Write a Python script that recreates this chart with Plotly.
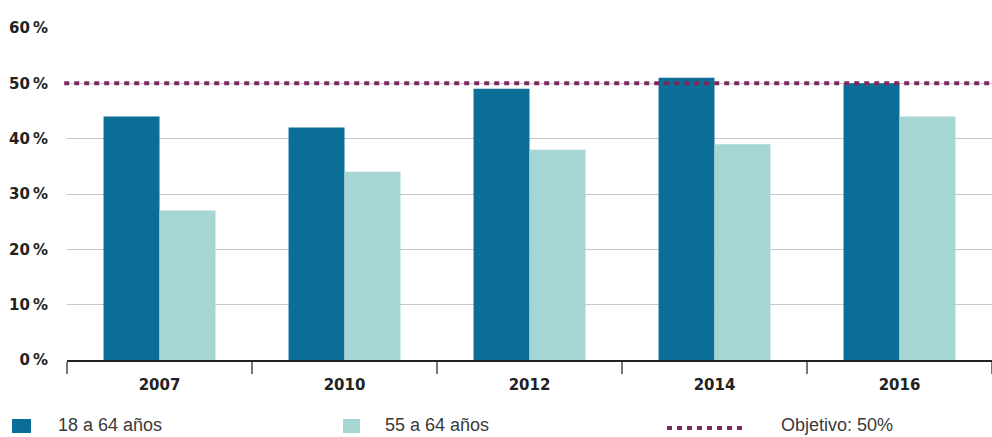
import plotly.graph_objects as go

# Data
years = ["2007", "2010", "2012", "2014", "2016"]
grupo_18_64 = [44, 42, 49, 51, 50]
grupo_55_64 = [27, 34, 38, 39, 44]
objetivo = 50
y_ticks = [0, 10, 20, 30, 40, 50, 60]
y_tick_labels = ["0\u2009%", "10\u2009%", "20\u2009%", "30\u2009%", "40\u2009%", "50\u2009%", "60\u2009%"]
legend_labels = ["18 a 64 años", "55 a 64 años", "Objetivo: 50%"]

DARK = "#0b6e96"
LIGHT = "#a5d6d4"
GOAL = "#7a2a5c"

W, H = 992, 437
L, R, T, B = 67, 0, 28, 77
PW, PH = W - L - R, H - T - B


def px_x(x):
    return (x - L) / PW


def px_y(y):
    return (H - B - y) / PH


fig = go.Figure()
fig.add_trace(go.Bar(x=years, y=grupo_18_64, name=legend_labels[0],
                     marker=dict(color=DARK, line=dict(width=0)), showlegend=False))
fig.add_trace(go.Bar(x=years, y=grupo_55_64, name=legend_labels[1],
                     marker=dict(color=LIGHT, line=dict(width=0)), showlegend=False))

# Objective line across the whole plot
fig.add_shape(type="line", xref="paper", yref="y", x0=-0.003, x1=1, y0=objetivo, y1=objetivo,
              line=dict(color=GOAL, width=4, dash="5px,5px"), layer="above")

# Legend drawn below the axis
font_leg = dict(family="Liberation Sans, Arial, sans-serif", size=18, color="#3a3a3a")
for x0, x1, col in [(12, 31, DARK), (343, 360, LIGHT)]:
    fig.add_shape(type="rect", xref="paper", yref="paper",
                  x0=px_x(x0), x1=px_x(x1), y0=px_y(419), y1=px_y(433),
                  fillcolor=col, line=dict(width=0))
fig.add_shape(type="line", xref="paper", yref="paper",
              x0=px_x(667), x1=px_x(745), y0=px_y(428), y1=px_y(428),
              line=dict(color=GOAL, width=4, dash="5px,5px"))
for x0, txt in [(56, legend_labels[0]), (383, legend_labels[1]), (779, legend_labels[2])]:
    fig.add_annotation(xref="paper", yref="paper", x=px_x(x0), y=px_y(425),
                       text=txt, showarrow=False, xanchor="left", yanchor="middle",
                       font=font_leg)

tick_font = dict(size=15, color="#222222", family="DejaVu Sans, sans-serif", weight="bold")

fig.update_layout(
    width=W, height=H,
    margin=dict(l=L, r=R, t=T, b=B),
    paper_bgcolor="white", plot_bgcolor="white",
    barmode="group", bargap=0.395, bargroupgap=0,
    font=dict(family="DejaVu Sans, sans-serif", color="#222222"),
    showlegend=False,
)
fig.update_xaxes(
    type="category", tickson="boundaries", ticks="outside", ticklen=12,
    tickcolor="#777777", tickwidth=2,
    showline=True, linecolor="#222222", linewidth=1.5,
    showgrid=False, ticklabelstandoff=10,
    tickfont=tick_font,
)
fig.update_yaxes(
    range=[0, 60], tickvals=y_ticks, ticktext=y_tick_labels,
    showgrid=True, gridcolor="#c8c8c8", gridwidth=1,
    zeroline=False, showline=False, ticks="", ticklabelstandoff=18,
    tickfont=tick_font,
)

fig.write_html("out.html")
